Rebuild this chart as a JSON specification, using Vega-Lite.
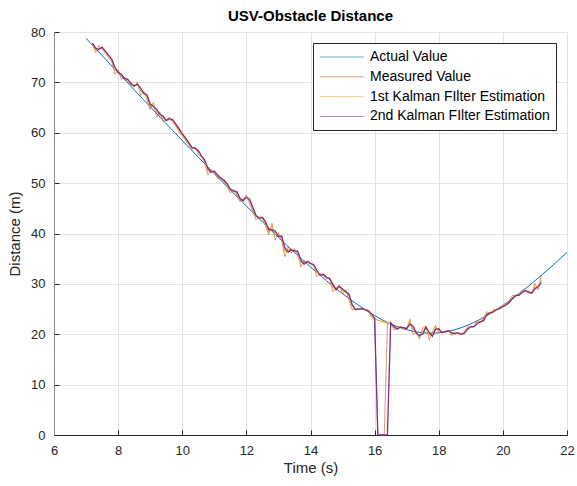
{
  "$schema": "https://vega.github.io/schema/vega-lite/v6.json",
  "width": 513,
  "height": 403,
  "autosize": {"type": "none"},
  "padding": {"left": 54, "top": 32, "right": 10, "bottom": 51},
  "title": {"text": "USV-Obstacle Distance", "fontSize": 15, "fontWeight": "bold", "font": "Liberation Sans", "color": "#000000", "offset": 2, "anchor": "middle"},
  "datasets": {
    "actual": [
      {"t": 7.0, "d": 78.75}, {"t": 7.25, "d": 77.04}, {"t": 7.5, "d": 75.33}, {"t": 7.75, "d": 73.63},
      {"t": 8.0, "d": 71.92}, {"t": 8.25, "d": 70.23}, {"t": 8.5, "d": 68.53}, {"t": 8.75, "d": 66.84},
      {"t": 9.0, "d": 65.16}, {"t": 9.25, "d": 63.48}, {"t": 9.5, "d": 61.8}, {"t": 9.75, "d": 60.13},
      {"t": 10.0, "d": 58.47}, {"t": 10.25, "d": 56.81}, {"t": 10.5, "d": 55.16}, {"t": 10.75, "d": 53.52},
      {"t": 11.0, "d": 51.88}, {"t": 11.25, "d": 50.26}, {"t": 11.5, "d": 48.64}, {"t": 11.75, "d": 47.04},
      {"t": 12.0, "d": 45.45}, {"t": 12.25, "d": 43.87}, {"t": 12.5, "d": 42.31}, {"t": 12.75, "d": 40.76},
      {"t": 13.0, "d": 39.23}, {"t": 13.25, "d": 37.72}, {"t": 13.5, "d": 36.24}, {"t": 13.75, "d": 34.79},
      {"t": 14.0, "d": 33.36}, {"t": 14.25, "d": 31.97}, {"t": 14.5, "d": 30.62}, {"t": 14.75, "d": 29.31},
      {"t": 15.0, "d": 28.06}, {"t": 15.25, "d": 26.86}, {"t": 15.5, "d": 25.73}, {"t": 15.75, "d": 24.67},
      {"t": 16.0, "d": 23.7}, {"t": 16.25, "d": 22.82}, {"t": 16.5, "d": 22.05}, {"t": 16.75, "d": 21.41},
      {"t": 17.0, "d": 20.89}, {"t": 17.25, "d": 20.51}, {"t": 17.5, "d": 20.28}, {"t": 17.75, "d": 20.2},
      {"t": 18.0, "d": 20.28}, {"t": 18.25, "d": 20.51}, {"t": 18.5, "d": 20.89}, {"t": 18.75, "d": 21.41},
      {"t": 19.0, "d": 22.05}, {"t": 19.25, "d": 22.82}, {"t": 19.5, "d": 23.7}, {"t": 19.75, "d": 24.67},
      {"t": 20.0, "d": 25.73}, {"t": 20.25, "d": 26.86}, {"t": 20.5, "d": 28.06}, {"t": 20.75, "d": 29.31},
      {"t": 21.0, "d": 30.62}, {"t": 21.25, "d": 31.97}, {"t": 21.5, "d": 33.36}, {"t": 21.75, "d": 34.79},
      {"t": 22.0, "d": 36.24}
    ],
    "noisy": [
      {"t": 7.2, "m": 77.6, "k1": 77.7, "k2": 77.8},
      {"t": 7.3, "m": 75.9, "k1": 76.5, "k2": 76.8},
      {"t": 7.4, "m": 77.3, "k1": 76.8, "k2": 76.5},
      {"t": 7.5, "m": 76.6, "k1": 76.8, "k2": 77.0},
      {"t": 7.6, "m": 75.8, "k1": 76.1, "k2": 76.2},
      {"t": 7.7, "m": 74.9, "k1": 75.2, "k2": 75.4},
      {"t": 7.8, "m": 74.2, "k1": 74.4, "k2": 74.6},
      {"t": 7.9, "m": 71.6, "k1": 72.5, "k2": 73.0},
      {"t": 8.0, "m": 72.5, "k1": 72.2, "k2": 72.0},
      {"t": 8.1, "m": 70.6, "k1": 71.3, "k2": 71.6},
      {"t": 8.2, "m": 71.0, "k1": 70.9, "k2": 70.8},
      {"t": 8.3, "m": 70.2, "k1": 70.5, "k2": 70.6},
      {"t": 8.4, "m": 69.4, "k1": 69.7, "k2": 69.8},
      {"t": 8.5, "m": 69.1, "k1": 69.2, "k2": 69.3},
      {"t": 8.6, "m": 70.1, "k1": 69.8, "k2": 69.6},
      {"t": 8.7, "m": 67.4, "k1": 68.3, "k2": 68.9},
      {"t": 8.8, "m": 68.3, "k1": 68.0, "k2": 67.8},
      {"t": 8.9, "m": 66.6, "k1": 67.2, "k2": 67.5},
      {"t": 9.0, "m": 64.6, "k1": 65.3, "k2": 65.7},
      {"t": 9.1, "m": 66.0, "k1": 65.5, "k2": 65.2},
      {"t": 9.2, "m": 63.1, "k1": 64.1, "k2": 64.7},
      {"t": 9.3, "m": 64.2, "k1": 63.8, "k2": 63.6},
      {"t": 9.4, "m": 62.2, "k1": 62.9, "k2": 63.3},
      {"t": 9.5, "m": 62.6, "k1": 62.5, "k2": 62.4},
      {"t": 9.6, "m": 63.1, "k1": 62.9, "k2": 62.8},
      {"t": 9.7, "m": 62.0, "k1": 62.4, "k2": 62.6},
      {"t": 9.8, "m": 61.3, "k1": 61.5, "k2": 61.7},
      {"t": 9.9, "m": 60.1, "k1": 60.5, "k2": 60.8},
      {"t": 10.0, "m": 59.4, "k1": 59.6, "k2": 59.8},
      {"t": 10.1, "m": 58.5, "k1": 58.8, "k2": 59.0},
      {"t": 10.2, "m": 57.6, "k1": 57.9, "k2": 58.1},
      {"t": 10.3, "m": 56.6, "k1": 57.0, "k2": 57.1},
      {"t": 10.4, "m": 57.2, "k1": 57.0, "k2": 56.9},
      {"t": 10.5, "m": 55.6, "k1": 56.2, "k2": 56.5},
      {"t": 10.6, "m": 55.2, "k1": 55.3, "k2": 55.4},
      {"t": 10.7, "m": 53.9, "k1": 54.4, "k2": 54.6},
      {"t": 10.8, "m": 51.6, "k1": 52.4, "k2": 52.9},
      {"t": 10.9, "m": 52.7, "k1": 52.3, "k2": 52.1},
      {"t": 11.0, "m": 52.1, "k1": 52.3, "k2": 52.4},
      {"t": 11.1, "m": 51.0, "k1": 51.4, "k2": 51.6},
      {"t": 11.2, "m": 50.9, "k1": 50.9, "k2": 51.0},
      {"t": 11.3, "m": 50.3, "k1": 50.5, "k2": 50.6},
      {"t": 11.4, "m": 49.4, "k1": 49.7, "k2": 49.9},
      {"t": 11.5, "m": 48.0, "k1": 48.5, "k2": 48.8},
      {"t": 11.6, "m": 48.8, "k1": 48.5, "k2": 48.4},
      {"t": 11.7, "m": 47.6, "k1": 48.0, "k2": 48.3},
      {"t": 11.8, "m": 46.3, "k1": 46.8, "k2": 47.0},
      {"t": 11.9, "m": 46.8, "k1": 46.6, "k2": 46.5},
      {"t": 12.0, "m": 47.6, "k1": 47.3, "k2": 47.2},
      {"t": 12.1, "m": 45.9, "k1": 46.5, "k2": 46.8},
      {"t": 12.2, "m": 44.4, "k1": 44.9, "k2": 45.2},
      {"t": 12.3, "m": 42.7, "k1": 43.3, "k2": 43.6},
      {"t": 12.4, "m": 43.4, "k1": 43.2, "k2": 43.0},
      {"t": 12.5, "m": 42.9, "k1": 43.1, "k2": 43.2},
      {"t": 12.6, "m": 41.5, "k1": 42.0, "k2": 42.3},
      {"t": 12.7, "m": 39.7, "k1": 40.3, "k2": 40.7},
      {"t": 12.8, "m": 42.0, "k1": 41.2, "k2": 40.7},
      {"t": 12.9, "m": 38.7, "k1": 39.9, "k2": 40.5},
      {"t": 13.0, "m": 40.2, "k1": 39.7, "k2": 39.4},
      {"t": 13.1, "m": 38.6, "k1": 39.2, "k2": 39.5},
      {"t": 13.2, "m": 35.4, "k1": 36.5, "k2": 37.2},
      {"t": 13.3, "m": 37.4, "k1": 36.7, "k2": 36.3},
      {"t": 13.4, "m": 36.1, "k1": 36.6, "k2": 36.8},
      {"t": 13.5, "m": 37.0, "k1": 36.7, "k2": 36.5},
      {"t": 13.6, "m": 35.8, "k1": 36.2, "k2": 36.5},
      {"t": 13.7, "m": 33.4, "k1": 34.2, "k2": 34.7},
      {"t": 13.8, "m": 34.6, "k1": 34.2, "k2": 33.9},
      {"t": 13.9, "m": 34.3, "k1": 34.4, "k2": 34.5},
      {"t": 14.0, "m": 33.9, "k1": 34.0, "k2": 34.1},
      {"t": 14.1, "m": 33.7, "k1": 33.8, "k2": 33.8},
      {"t": 14.2, "m": 31.4, "k1": 32.2, "k2": 32.7},
      {"t": 14.3, "m": 32.1, "k1": 31.9, "k2": 31.7},
      {"t": 14.4, "m": 31.6, "k1": 31.8, "k2": 31.9},
      {"t": 14.5, "m": 31.0, "k1": 31.2, "k2": 31.3},
      {"t": 14.6, "m": 31.1, "k1": 31.1, "k2": 31.0},
      {"t": 14.7, "m": 28.4, "k1": 29.3, "k2": 29.9},
      {"t": 14.8, "m": 29.2, "k1": 28.9, "k2": 28.8},
      {"t": 14.9, "m": 29.8, "k1": 29.6, "k2": 29.5},
      {"t": 15.0, "m": 28.0, "k1": 28.6, "k2": 29.0},
      {"t": 15.1, "m": 28.9, "k1": 28.6, "k2": 28.4},
      {"t": 15.2, "m": 26.8, "k1": 27.5, "k2": 28.0},
      {"t": 15.3, "m": 24.8, "k1": 25.5, "k2": 25.9},
      {"t": 15.4, "m": 25.0, "k1": 24.9, "k2": 24.9},
      {"t": 15.5, "m": 25.1, "k1": 25.1, "k2": 25.0},
      {"t": 15.6, "m": 25.0, "k1": 25.0, "k2": 25.1},
      {"t": 15.7, "m": 24.8, "k1": 24.9, "k2": 24.9},
      {"t": 15.8, "m": 24.6, "k1": 24.7, "k2": 24.7},
      {"t": 15.9, "m": 23.4, "k1": 23.8, "k2": 24.1},
      {"t": 16.0, "m": 22.9, "k1": 23.1, "k2": 23.2},
      {"t": 16.1, "m": 0, "k1": 22.8, "k2": 0},
      {"t": 16.2, "m": 0, "k1": 22.6, "k2": 0},
      {"t": 16.3, "m": 0, "k1": 22.4, "k2": 0},
      {"t": 16.4, "m": 22.0, "k1": 22.2, "k2": 0},
      {"t": 16.5, "m": 22.2, "k1": 22.1, "k2": 22.3},
      {"t": 16.6, "m": 20.8, "k1": 21.3, "k2": 21.6},
      {"t": 16.7, "m": 21.3, "k1": 21.1, "k2": 21.0},
      {"t": 16.8, "m": 21.6, "k1": 21.5, "k2": 21.4},
      {"t": 16.9, "m": 21.0, "k1": 21.2, "k2": 21.3},
      {"t": 17.0, "m": 21.2, "k1": 21.1, "k2": 21.1},
      {"t": 17.1, "m": 23.0, "k1": 22.4, "k2": 22.0},
      {"t": 17.2, "m": 19.9, "k1": 21.0, "k2": 21.6},
      {"t": 17.3, "m": 20.5, "k1": 20.3, "k2": 20.2},
      {"t": 17.4, "m": 19.0, "k1": 19.5, "k2": 19.8},
      {"t": 17.5, "m": 21.3, "k1": 20.5, "k2": 20.0},
      {"t": 17.6, "m": 21.6, "k1": 21.5, "k2": 21.4},
      {"t": 17.7, "m": 18.9, "k1": 19.8, "k2": 20.4},
      {"t": 17.8, "m": 20.4, "k1": 19.9, "k2": 19.6},
      {"t": 17.9, "m": 21.8, "k1": 21.3, "k2": 21.0},
      {"t": 18.0, "m": 20.3, "k1": 20.8, "k2": 21.1},
      {"t": 18.1, "m": 20.4, "k1": 20.4, "k2": 20.3},
      {"t": 18.2, "m": 20.6, "k1": 20.5, "k2": 20.5},
      {"t": 18.3, "m": 20.8, "k1": 20.7, "k2": 20.7},
      {"t": 18.4, "m": 19.7, "k1": 20.1, "k2": 20.3},
      {"t": 18.5, "m": 20.5, "k1": 20.2, "k2": 20.1},
      {"t": 18.6, "m": 20.1, "k1": 20.2, "k2": 20.3},
      {"t": 18.7, "m": 19.9, "k1": 20.0, "k2": 20.0},
      {"t": 18.8, "m": 20.6, "k1": 20.4, "k2": 20.2},
      {"t": 18.9, "m": 21.5, "k1": 21.2, "k2": 21.0},
      {"t": 19.0, "m": 21.4, "k1": 21.4, "k2": 21.5},
      {"t": 19.1, "m": 21.6, "k1": 21.5, "k2": 21.5},
      {"t": 19.2, "m": 22.8, "k1": 22.4, "k2": 22.1},
      {"t": 19.3, "m": 22.2, "k1": 22.4, "k2": 22.5},
      {"t": 19.4, "m": 23.4, "k1": 23.0, "k2": 22.7},
      {"t": 19.5, "m": 24.5, "k1": 24.1, "k2": 23.9},
      {"t": 19.6, "m": 24.0, "k1": 24.2, "k2": 24.3},
      {"t": 19.7, "m": 24.9, "k1": 24.6, "k2": 24.4},
      {"t": 19.8, "m": 24.8, "k1": 24.8, "k2": 24.9},
      {"t": 19.9, "m": 25.5, "k1": 25.3, "k2": 25.1},
      {"t": 20.0, "m": 25.6, "k1": 25.6, "k2": 25.5},
      {"t": 20.1, "m": 26.1, "k1": 25.9, "k2": 25.8},
      {"t": 20.2, "m": 26.5, "k1": 26.4, "k2": 26.3},
      {"t": 20.3, "m": 27.8, "k1": 27.3, "k2": 27.1},
      {"t": 20.4, "m": 27.5, "k1": 27.6, "k2": 27.7},
      {"t": 20.5, "m": 27.9, "k1": 27.8, "k2": 27.7},
      {"t": 20.6, "m": 28.8, "k1": 28.5, "k2": 28.3},
      {"t": 20.7, "m": 28.6, "k1": 28.7, "k2": 28.7},
      {"t": 20.8, "m": 28.2, "k1": 28.3, "k2": 28.4},
      {"t": 20.9, "m": 28.1, "k1": 28.1, "k2": 28.2},
      {"t": 21.0, "m": 30.1, "k1": 29.4, "k2": 29.0},
      {"t": 21.1, "m": 28.8, "k1": 29.3, "k2": 29.5},
      {"t": 21.2, "m": 31.8, "k1": 30.8, "k2": 30.2}
    ]
  },
  "layer": [
    {
      "data": {"name": "actual"},
      "transform": [{"fold": ["d"], "as": ["series", "value"]}],
      "mark": {"type": "line", "strokeWidth": 1},
      "encoding": {
        "x": {"field": "t", "type": "quantitative", "title": "Time (s)",
              "scale": {"domain": [6, 22], "nice": false},
              "axis": {"values": [6, 8, 10, 12, 14, 16, 18, 20, 22]}},
        "y": {"field": "value", "type": "quantitative", "title": "Distance (m)",
              "scale": {"domain": [0, 80], "nice": false},
              "axis": {"values": [0, 10, 20, 30, 40, 50, 60, 70, 80], "domainColor": "#8a8a8a", "titlePadding": 8}},
        "color": {"field": "series", "type": "nominal",
                  "scale": {"domain": ["d", "m", "k1", "k2"],
                            "range": ["#0072BD", "#D95319", "#EDB120", "#7E2F8E"]},
                  "legend": {"title": null,
                             "labelExpr": "datum.value == 'd' ? 'Actual Value' : datum.value == 'm' ? 'Measured Value' : datum.value == 'k1' ? '1st Kalman FIlter Estimation' : '2nd Kalman FIlter Estimation'"}}
      }
    },
    {
      "data": {"name": "noisy"},
      "transform": [{"fold": ["m"], "as": ["series", "value"]}],
      "mark": {"type": "line", "strokeWidth": 1, "opacity": 0.6},
      "encoding": {
        "x": {"field": "t", "type": "quantitative", "title": "Time (s)"},
        "y": {"field": "value", "type": "quantitative", "title": "Distance (m)"},
        "color": {"field": "series", "type": "nominal"}
      }
    },
    {
      "data": {"name": "noisy"},
      "transform": [{"fold": ["k1"], "as": ["series", "value"]}],
      "mark": {"type": "line", "strokeWidth": 1.2},
      "encoding": {
        "x": {"field": "t", "type": "quantitative", "title": "Time (s)"},
        "y": {"field": "value", "type": "quantitative", "title": "Distance (m)"},
        "color": {"field": "series", "type": "nominal"}
      }
    },
    {
      "data": {"name": "noisy"},
      "transform": [{"fold": ["k2"], "as": ["series", "value"]}],
      "mark": {"type": "line", "strokeWidth": 1.3},
      "encoding": {
        "x": {"field": "t", "type": "quantitative", "title": "Time (s)"},
        "y": {"field": "value", "type": "quantitative", "title": "Distance (m)"},
        "color": {"field": "series", "type": "nominal"}
      }
    }
  ],
  "config": {
    "font": "Liberation Sans",
    "view": {"stroke": null},
    "axis": {
      "labelFont": "Liberation Sans", "labelFontSize": 13, "labelColor": "#262626",
      "titleFont": "Liberation Sans", "titleFontSize": 15, "titleFontWeight": "normal", "titleColor": "#262626",
      "gridColor": "#e3e3e3", "gridWidth": 1,
      "tickColor": "#262626", "tickSize": -5, "domainColor": "#262626",
      "labelPadding": 14, "labelFlush": false, "titlePadding": 3
    },
    "legend": {
      "orient": "top-right", "offset": 11,
      "symbolType": "M -1 0 L 5 0", "symbolSize": 215, "symbolStrokeWidth": 1,
      "labelFont": "Liberation Sans", "labelFontSize": 14, "labelColor": "#000000",
      "labelOffset": 35, "labelLimit": 400,
      "padding": 6, "rowPadding": 4.8,
      "strokeColor": "#262626", "fillColor": "#ffffff", "cornerRadius": 0
    }
  }
}
